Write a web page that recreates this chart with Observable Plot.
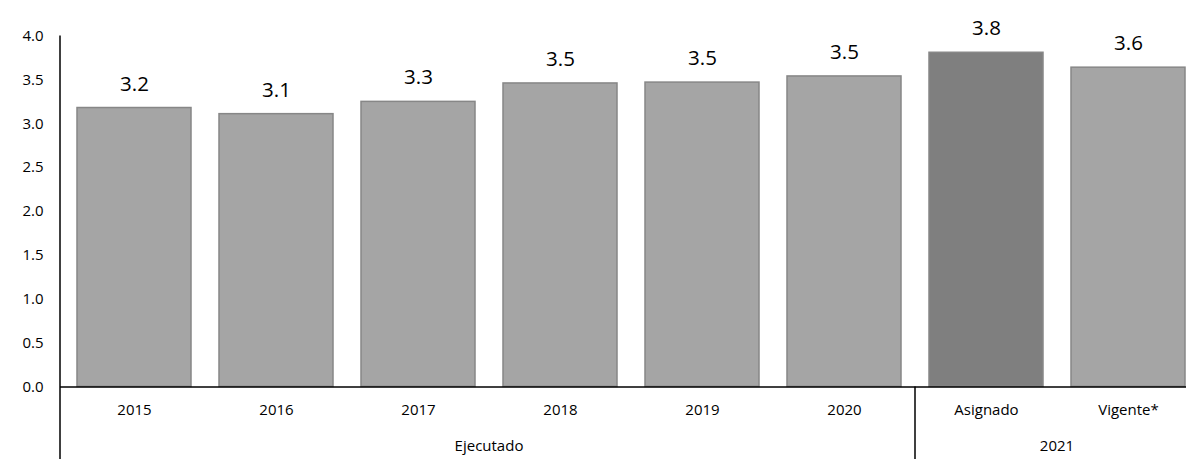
<!DOCTYPE html>
<html><head><meta charset="utf-8">
<script src="https://cdn.jsdelivr.net/npm/d3@7"></script>
<script src="https://cdn.jsdelivr.net/npm/@observablehq/plot@0.6"></script>
<style>
html,body{margin:0;padding:0;background:#fff;overflow:hidden}
#chart{width:1186px;height:459px;overflow:hidden}
#chart svg{overflow:hidden}
</style>
</head><body><div id="chart"></div>
<script>
const categories = ["2015","2016","2017","2018","2019","2020","Asignado","Vigente*"];
const values = [3.18, 3.11, 3.25, 3.46, 3.47, 3.54, 3.81, 3.64];
const groups = ["Ejecutado","Ejecutado","Ejecutado","Ejecutado","Ejecutado","Ejecutado","2021","2021"];
const kinds = ["ejecutado","ejecutado","ejecutado","ejecutado","ejecutado","ejecutado","asignado","vigente"];
const yTicks = [0, 0.5, 1.0, 1.5, 2.0, 2.5, 3.0, 3.5, 4.0];

const data = categories.map((c, i) => ({category: c, value: values[i], group: groups[i], kind: kinds[i]}));
const groupList = Array.from(new Set(groups));

const W = 1186, H = 459;
const mTop = 35.6, mBottom = 72.6, mLeft = 60;
const paddingInner = 0.2, paddingOuter = 0.1;
const tickFont = 15;

function hierarchy(index, scales, values, dimensions) {
  const x = scales.x, y = scales.y;
  const step = x.step(), bw = x.bandwidth();
  const gap = (step - bw) / 2;
  const g = d3.create("svg:g");
  const y0 = y(0);
  g.append("line").attr("x1", x.range()[0]).attr("x2", x.range()[0])
    .attr("y1", dimensions.marginTop).attr("y2", dimensions.height)
    .attr("stroke", "#000").attr("stroke-width", 1.5);
  groupList.forEach((grp, gi) => {
    const idx = groups.map((d, i) => d === grp ? i : -1).filter(i => i >= 0);
    const left = x(categories[idx[0]]) - gap;
    const right = x(categories[idx[idx.length - 1]]) + bw + gap;
    if (gi > 0) {
      g.append("line").attr("x1", left).attr("x2", left)
        .attr("y1", y0).attr("y2", dimensions.height)
        .attr("stroke", "#000").attr("stroke-width", 1.5);
    }
    g.append("text").attr("x", (left + right) / 2).attr("y", y0 + 61)
      .attr("text-anchor", "middle").attr("dominant-baseline", "middle")
      .attr("font-size", tickFont).attr("fill", "#000").text(grp);
  });
  return g.node();
}

const chart = Plot.plot({
  width: W,
  height: H,
  marginTop: mTop,
  marginBottom: mBottom,
  marginLeft: mLeft,
  marginRight: 0,
  style: {fontFamily: "'Open Sans', sans-serif", fontSize: tickFont + "px", color: "#000", background: "#fff"},
  x: {domain: categories, range: [mLeft, 1201], paddingInner, paddingOuter, axis: null},
  y: {domain: [0, 4], ticks: yTicks, tickFormat: d => d.toFixed(1), tickSize: 0, tickPadding: 17, label: null},
  color: {domain: ["ejecutado", "asignado", "vigente"], range: ["#a5a5a5", "#7f7f7f", "#a5a5a5"]},
  marks: [
    Plot.barY(data, {x: "category", y: "value", fill: "kind", stroke: "#878787", strokeWidth: 1.5}),
    Plot.text(data, {x: "category", y: "value", text: d => d.value.toFixed(1), dy: -24, lineAnchor: "middle", fontSize: 20.5, fill: "#000"}),
    Plot.text(data, {x: "category", y: 0, text: "category", dy: 23, lineAnchor: "middle", fill: "#000"}),
    Plot.ruleY([0], {stroke: "#000", strokeWidth: 1.5}),
    hierarchy
  ]
});
document.getElementById("chart").appendChild(chart);
</script>
</body></html>
